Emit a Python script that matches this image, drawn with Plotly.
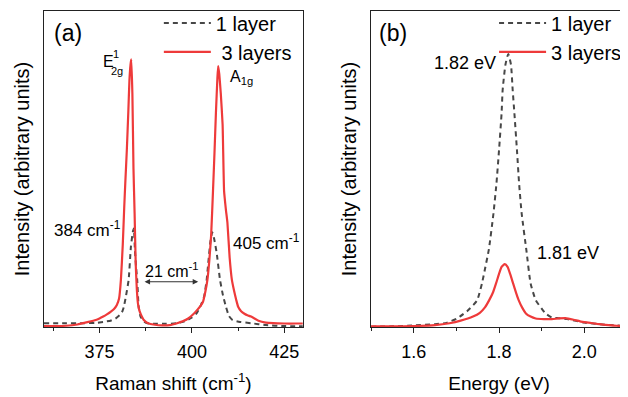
import plotly.graph_objects as go

# ---------------- Data ----------------
# Panel (a): Raman spectra (x: Raman shift, cm^-1 ; y: normalised intensity)
raman_1L_x = [360, 365, 370, 374, 376, 378, 379.5, 380.5, 381.2, 381.6, 382.2, 382.9, 383.5, 384.0,
              384.3, 384.6, 384.9, 385.2, 385.6, 386.1, 387, 388, 390, 393, 396, 398, 400, 401.3,
              402.3, 403.3, 404.0, 404.4, 405.0, 405.5, 406.0, 406.7, 407.6, 408.4, 409.2, 410, 411,
              413, 416, 420, 425, 430]
raman_1L_y = [0.012, 0.012, 0.012, 0.013, 0.016, 0.020, 0.028, 0.038, 0.050, 0.064, 0.100, 0.150, 0.254, 0.300,
              0.312, 0.240, 0.190, 0.149, 0.064, 0.033, 0.018, 0.012, 0.010, 0.010, 0.012, 0.018, 0.030, 0.044,
              0.066, 0.096, 0.150, 0.200, 0.270, 0.300, 0.280, 0.234, 0.149, 0.100, 0.064, 0.035, 0.022,
              0.016, 0.012, 0.006, 0.003, 0.002]

raman_3L_x = [360, 363, 366, 369, 372, 374, 375, 376, 377, 378, 379, 379.7, 380.3, 380.8, 381.3, 381.7,
              382.0, 382.4, 382.8, 383.1, 383.4, 383.6, 383.9, 384.2, 384.5, 384.8, 385.1, 385.4, 385.8,
              386.2, 387, 388, 390, 392, 394, 396, 397.5, 399, 400.5, 401.5, 402.3, 403, 403.6, 404.2,
              404.7, 405.2, 405.7, 406.1, 406.5, 406.9, 407.1, 407.4, 407.8, 408.3, 408.7, 409.2, 409.6,
              410.2, 410.8, 411.4, 412.0, 412.5, 413.3, 414.2, 415, 416, 418, 420, 422, 425, 428, 430]
raman_3L_y = [0.003, 0.003, 0.004, 0.008, 0.016, 0.022, 0.027, 0.033, 0.040, 0.048, 0.058, 0.070, 0.090, 0.150,
              0.260, 0.380, 0.460, 0.560, 0.680, 0.780, 0.830, 0.847, 0.740, 0.500, 0.360, 0.200, 0.120,
              0.075, 0.052, 0.040, 0.022, 0.013, 0.007, 0.005, 0.006, 0.012, 0.018, 0.027, 0.042, 0.055,
              0.066, 0.080, 0.110, 0.150, 0.210, 0.290, 0.430, 0.550, 0.680, 0.790, 0.826, 0.800, 0.740,
              0.640, 0.430, 0.370, 0.330, 0.220, 0.150, 0.115, 0.085, 0.064, 0.050, 0.042, 0.037, 0.033,
              0.020, 0.014, 0.012, 0.011, 0.011, 0.011]

# Panel (b): photoluminescence (x: energy, eV ; y: normalised intensity)
pl_1L_x = [1.50, 1.55, 1.60, 1.65, 1.677, 1.70, 1.708, 1.725, 1.74, 1.749, 1.76, 1.768, 1.776, 1.787,
           1.794, 1.80, 1.806, 1.8085, 1.815, 1.8216, 1.828, 1.832, 1.836, 1.842, 1.847, 1.853, 1.864,
           1.874, 1.886, 1.90, 1.909, 1.924, 1.94, 1.96, 2.00, 2.05, 2.10]
pl_1L_y = [0.001, 0.002, 0.005, 0.009, 0.013, 0.026, 0.033, 0.050, 0.070, 0.085, 0.138, 0.190, 0.244, 0.360,
           0.455, 0.560, 0.677, 0.750, 0.830, 0.864, 0.830, 0.750, 0.677, 0.560, 0.455, 0.360, 0.244,
           0.138, 0.085, 0.058, 0.043, 0.030, 0.028, 0.025, 0.014, 0.007, 0.003]

pl_3L_x = [1.50, 1.55, 1.60, 1.65, 1.684, 1.71, 1.739, 1.755, 1.767, 1.777, 1.786, 1.793, 1.80, 1.806,
           1.8135, 1.82, 1.826, 1.833, 1.84, 1.846, 1.854, 1.863, 1.874, 1.886, 1.905, 1.924, 1.94,
           1.956, 1.975, 1.99, 2.01, 2.03, 2.049, 2.075, 2.10]
pl_3L_y = [0.002, 0.002, 0.003, 0.006, 0.012, 0.020, 0.033, 0.045, 0.062, 0.085, 0.110, 0.138, 0.168, 0.190,
           0.199, 0.190, 0.168, 0.138, 0.108, 0.085, 0.062, 0.043, 0.033, 0.027, 0.025, 0.025, 0.027,
           0.028, 0.023, 0.018, 0.014, 0.010, 0.007, 0.004, 0.003]

raman_ticks = [375, 400, 425]
pl_ticks = [1.6, 1.8, 2.0]
pl_ticklabels = ["1.6", "1.8", "2.0"]

# ---------------- Figure ----------------
FONT = "Liberation Sans, Arial, sans-serif"
RED = "#EE3A3A"
GRAY = "#474747"
AX = "#222222"

fig = go.Figure()
fig.add_trace(go.Scatter(x=raman_1L_x, y=raman_1L_y, mode="lines", name="1 layer",
                         line=dict(color=GRAY, width=2, dash="5px,4px", shape="spline", smoothing=0.4),
                         xaxis="x", yaxis="y", legend="legend"))
fig.add_trace(go.Scatter(x=raman_3L_x, y=raman_3L_y, mode="lines", name="\u00a03 layers",
                         line=dict(color=RED, width=2.2, shape="spline", smoothing=0.4),
                         xaxis="x", yaxis="y", legend="legend"))
fig.add_trace(go.Scatter(x=pl_1L_x, y=pl_1L_y, mode="lines", name="1 layer",
                         line=dict(color=GRAY, width=2, dash="5px,4px", shape="spline", smoothing=0.5),
                         xaxis="x2", yaxis="y2", legend="legend2"))
fig.add_trace(go.Scatter(x=pl_3L_x, y=pl_3L_y, mode="lines", name="3 layers",
                         line=dict(color=RED, width=2.2, shape="spline", smoothing=0.5),
                         xaxis="x2", yaxis="y2", legend="legend2"))

axis_common = dict(showline=True, linecolor=AX, linewidth=1, mirror=True, showgrid=False, zeroline=False,
                   ticks="outside", ticklen=5, tickwidth=1, tickcolor=AX, automargin=False,
                   ticklabelstandoff=3,
                   tickfont=dict(family=FONT, size=18, color="black"))
yaxis_common = dict(showline=True, linecolor=AX, linewidth=1, mirror=True, showgrid=False, zeroline=False,
                    showticklabels=False, ticks="", range=[0, 1], fixedrange=True, automargin=False,
                    title=dict(text="Intensity (arbitrary units)", font=dict(family=FONT, size=20, color="black"),
                               standoff=8))

# the page adds an 8px body margin, so the figure is 8px smaller than the window
fig.update_layout(
    width=620, height=389,
    margin=dict(l=36, r=1, t=3, b=70, autoexpand=False),
    paper_bgcolor="white", plot_bgcolor="white",
    font=dict(family=FONT, color="black"),
    xaxis=dict(domain=[0, 0.444], range=[360, 430], tickvals=raman_ticks, anchor="y",
               minor=dict(ticks="outside", ticklen=3, tickwidth=1, tickcolor=AX, dtick=12.5, tick0=362.5),
               title=dict(text="Raman shift (cm<sup>-1</sup>)", font=dict(family=FONT, size=19, color="black"),
                          standoff=16),
               **axis_common),
    yaxis=dict(domain=[0, 1], anchor="x", **yaxis_common),
    xaxis2=dict(domain=[0.561, 1], range=[1.5, 2.1], tickvals=pl_ticks, ticktext=pl_ticklabels, anchor="y2",
                minor=dict(ticks="outside", ticklen=3, tickwidth=1, tickcolor=AX, dtick=0.2, tick0=1.5),
                title=dict(text="Energy (eV)", font=dict(family=FONT, size=19, color="black"), standoff=16),
                **axis_common),
    yaxis2=dict(domain=[0, 1], anchor="x2", **yaxis_common),
    legend=dict(x=0.197, y=1.024, xanchor="left", yanchor="top", bgcolor="rgba(0,0,0,0)",
                font=dict(family=FONT, size=20, color="black"), itemwidth=47, tracegroupgap=0,
                borderwidth=0),
    legend2=dict(x=0.772, y=1.024, xanchor="left", yanchor="top", bgcolor="rgba(0,0,0,0)",
                 font=dict(family=FONT, size=20, color="black"), itemwidth=47, tracegroupgap=0,
                 borderwidth=0),
    showlegend=True,
)

ann_font = dict(family=FONT, size=17, color="black")
anns = [
    dict(text="(a)", x=362.2, y=0.93, xref="x", yref="y", xanchor="left", yanchor="middle",
         showarrow=False, font=dict(family=FONT, size=23, color="black")),
    dict(text="(b)", x=1.513, y=0.93, xref="x2", yref="y2", xanchor="left", yanchor="middle",
         showarrow=False, font=dict(family=FONT, size=23, color="black")),
    dict(text="E", x=375.3, y=0.84, xref="x", yref="y", xanchor="left", yanchor="middle",
         showarrow=False, font=dict(family=FONT, size=16, color="black")),
    dict(text="1", x=378.1, y=0.865, xref="x", yref="y", xanchor="left", yanchor="middle",
         showarrow=False, font=dict(family=FONT, size=11, color="black")),
    dict(text="2g", x=377.7, y=0.81, xref="x", yref="y", xanchor="left", yanchor="middle",
         showarrow=False, font=dict(family=FONT, size=11, color="black")),
    dict(text="A<sub>1g</sub>", x=409.7, y=0.79, xref="x", yref="y", xanchor="left", yanchor="middle",
         showarrow=False, font=dict(family=FONT, size=16, color="black")),
    dict(text="384 cm<sup>-1</sup>", x=362.2, y=0.31, xref="x", yref="y", xanchor="left", yanchor="middle",
         showarrow=False, font=ann_font),
    dict(text="405 cm<sup>-1</sup>", x=410.6, y=0.27, xref="x", yref="y", xanchor="left", yanchor="middle",
         showarrow=False, font=ann_font),
    dict(text="21 cm<sup>-1</sup>", x=394.7, y=0.18, xref="x", yref="y", xanchor="center", yanchor="middle",
         showarrow=False, font=dict(family=FONT, size=16, color="black")),
    dict(text="", x=387.2, y=0.143, ax=402.1, ay=0.143, xref="x", yref="y", axref="x", ayref="y",
         showarrow=True, arrowhead=2, startarrowhead=2, arrowside="end+start", arrowsize=1,
         arrowwidth=1.1, arrowcolor="#333333"),
    dict(text="1.82 eV", x=1.642, y=0.835, xref="x2", yref="y2", xanchor="left", yanchor="middle",
         showarrow=False, font=dict(family=FONT, size=18, color="black")),
    dict(text="1.81 eV", x=1.885, y=0.235, xref="x2", yref="y2", xanchor="left", yanchor="middle",
         showarrow=False, font=dict(family=FONT, size=18, color="black")),
]
fig.update_layout(annotations=anns)

fig.write_html("out.html")
